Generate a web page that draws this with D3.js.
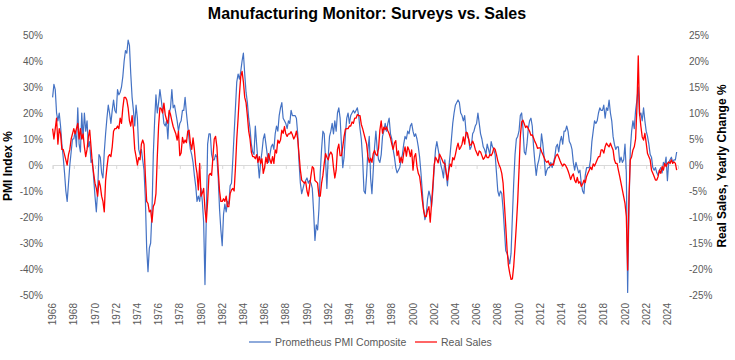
<!DOCTYPE html>
<html><head><meta charset="utf-8">
<script src="https://cdn.jsdelivr.net/npm/d3@7"></script>
<style>body{margin:0;background:#fff}svg{display:block}</style>
</head><body><svg id="c" width="735" height="360"></svg>
<script>
// Data: 8 readings per year (every 1.5 months), starting Jan 1966
const startYear = 1966;
const perYear = 8;
const pmi = [
26,31,29,20,17,20,15,8,
3,-3,-10,-14,-7,0,5,10,
10,13,7,22,8,5,20,10,
20,13,17,7,9,1,2,-5,
-12,-18,-10,4,3,-3,-5,5,
12,18,23,20,16,21,25,21,
20,29,27,28,30,34,40,44,
43,48,46,35,26,21,15,23,
18,6,4,6,2,-2,-13,-32,
-41,-32,-30,-18,4,17,27,20,
24,29,25,21,16,15,17,10,
20,22,29,22,23,20,17,13,
16,17,21,21,26,20,15,10,
6,4,1,-4,-8,-14,-12,-14,
-9,-14,-22,-46,-20,8,12,12,
4,2,2,4,3,-5,-17,-25,
-31,-19,-15,-18,-14,-15,-8,-7,
2,12,22,32,35,33,36,40,
43,35,28,24,18,14,8,5,
4,15,8,1,-5,1,5,10,
12,8,4,1,4,7,8,6,
12,15,13,19,22,24,18,17,
16,14,17,16,21,19,19,19,
18,12,1,-7,-11,-9,-7,-6,
-5,-7,-6,-7,-9,-18,-29,-23,
-25,-17,-3,6,13,12,2,-9,
3,11,13,16,12,17,13,20,
22,18,8,-1,3,12,18,20,
16,19,20,21,20,21,22,19,
14,10,2,-10,-11,-4,6,11,
-5,-11,-2,7,13,6,2,1,
4,11,13,16,13,16,18,12,
10,6,3,-1,-3,-2,-1,2,
4,8,11,10,13,12,15,16,
13,11,12,10,7,3,-3,-10,
-17,-21,-19,-13,-10,-12,-16,-10,
-1,6,9,6,3,0,-2,-5,
2,-3,-8,-1,4,10,16,20,
23,24,25,24,20,19,17,19,
13,11,10,6,7,12,13,15,
16,20,16,12,10,7,6,4,
8,6,4,9,7,6,4,-3,
-10,-12,-10,-11,-17,-25,-33,-34,
-36,-38,-34,-20,-7,4,10,11,
13,19,20,14,5,4,8,14,
17,18,15,7,1,-4,0,2,
5,12,8,3,-4,-2,-1,-1,
1,-1,1,3,7,8,5,9,
11,8,13,13,15,13,9,8,
6,1,-2,1,-1,-3,-2,-7,
-10,-11,-4,-1,-1,-1,2,9,
13,17,16,17,20,22,21,21,
23,18,22,21,25,20,17,11,
8,6,7,7,1,3,1,2,
8,-3,-49,-17,6,13,17,14,
21,25,30,19,20,17,22,17,
13,11,8,4,3,-1,-2,-1,
-3,-4,-2,-1,-3,1,0,3,
-6,1,2,3,1,2,2,5
];
const realSales = [
7,5,7,9,4,7,6,3,
3,2,1,0,2,3,5,6,
7,6,7,8,5,7,5,6,
3.5,1.6,3,5.4,6.7,3.5,0.3,-1.6,
-3.5,-4.5,-6,-3,-4,-6,-7,-9,
-3,-0.5,1.6,2,1.6,3.5,6.5,7,
7,7.5,7,9,8,11,13,13,
12.5,11,8.5,7.5,9.5,7,3,1.6,
0,1.4,1,4,4.8,4,-2,-7,
-7.4,-9,-8.7,-11,-8,-7.4,-5.5,1.5,
7.5,11,10.8,10,11.9,9.7,8.7,8,
10.5,9.7,8.5,7.4,6.7,6,4.8,6.5,
1.8,2.3,5.3,4.2,4.8,4.3,6.5,6.7,
4.2,3,5.2,3,0,-1.6,-4.8,0.3,
-6,-5.4,-4.5,-8.5,-11,-7,-2,-1.6,
-2,1.5,5,5.5,3.5,-1,-5,-7,
-7,-6.5,-7,-6,-8,-8,-5.5,-4.8,
-4.5,-5,-0.5,5,9,13.5,17,18,
16,13,12,9.5,6.5,5,2.5,1.6,
1.6,1.2,2,0.5,1.6,0.3,1.2,-1.6,
-0.5,1.5,0.3,2.2,1,0.3,1.6,0.3,
2.9,2.3,4.8,4.2,4.8,6.7,6.1,7.4,
6,5.5,6,6,6.4,5.8,5,5.5,
6.5,5,2,-1,-2.9,-3.2,-3.5,-3.2,
-5,-6,-4,-2,-0.3,-0.6,-3,-3.2,
-3.5,-6,-6,-3.5,-2,0.3,2.2,1.5,
1,2,2.5,2,-0.5,-2.5,-1,3,
4,1.8,1.8,3.5,5.5,6.9,7,7,
7.5,7.5,8.3,8,9,9,9.7,9.5,
9.5,7.8,7,6,5,4,1.6,0.5,
1.3,0.5,2.2,2.8,2,1.8,3.2,6.7,
8.5,6.1,7.3,6.8,7.3,6.6,6,5.2,
4,3,4.2,4.7,1.8,2.7,0.5,1.5,
0.4,2.3,3.5,1.7,3.5,2.9,1.6,2.9,
-1,1.6,2.2,-0.3,-1.6,-2.2,-4.2,-6.7,
-8.7,-9.9,-9.9,-8.7,-8,-11,-7.4,-3.8,
0,1.5,1,0.4,2.1,1.6,1,0.4,
0.3,-1.4,-2.9,-1.2,0.2,-0.3,1.4,1,
2,3.3,4.2,3,3.4,4,5.4,4,
6.3,6.2,5,3.8,3.9,4.6,4,3,
2.4,1.8,2.7,2.5,1.8,1.1,1.4,2,
1.4,1.4,2,1.8,2.3,3.3,3,2,
0.8,0,-0.6,-1.6,-3.5,-7.6,-11.8,-16.3,
-19.3,-20.8,-22,-21.9,-19.5,-15.7,-11.6,-7,
-1,5.5,8.3,8.6,7.9,7.2,7.5,7,
6.5,5.7,5.8,5.2,4.5,4,3.2,3.3,
3.3,2.6,2,1.4,0.8,0.5,0.8,0.1,
-0.1,0.2,0,1.1,1.8,2.1,1.5,0.8,
0.2,-0.2,0.2,0,-0.5,-1.1,-1.9,-2.8,
-2.1,-1.7,-2.9,-3.4,-2.4,-3.5,-3.2,-4.1,
-3.7,-2.9,-3.4,-2.2,-1.6,-1,-0.4,-0.9,
0.2,-0.2,0.4,1,1.6,1.6,2.9,2.9,
2.3,3.5,4.2,3.8,3.5,4.2,3.5,2.9,
1,0.3,0.3,-1,-2.2,-3.5,-4.8,-6.1,
-7.4,-9.9,-20.2,-6.1,1,1.6,2.9,3.5,
5,11,21,9.9,7.4,5.4,4.8,6.1,
4.2,2.2,1.6,1,-1,-1.6,-2.2,-2.9,
-2.9,-2.2,-1,-1.6,-0.3,-1,0.3,-0.3,
0.3,0.6,0.3,1,0.3,0.6,0.3,-1
];
const yearTicks = d3.range(1966, 2025, 2);
const leftTicks = [-50,-40,-30,-20,-10,0,10,20,30,40,50];
const rightTicks = [-25,-20,-15,-10,-5,0,5,10,15,20,25];
const title = "Manufacturing Monitor: Surveys vs. Sales";
const seriesNames = ["Prometheus PMI Composite", "Real Sales"];
const seriesColors = ["#4472C4", "#FF0000"];

const svg = d3.select("#c");
const x = d3.scaleLinear().domain([1966, 2025]).range([52.6, 678]);
const yL = d3.scaleLinear().domain([-50, 50]).range([295, 35]);
const yR = d3.scaleLinear().domain([-25, 25]).range([295, 35]);
const tOf = i => startYear + i / perYear;
const narrow = "'Liberation Sans Narrow','Liberation Sans',Arial,sans-serif";
const sans = "'Liberation Sans',Arial,sans-serif";

svg.append("text").attr("x", 367).attr("y", 19).attr("text-anchor", "middle")
  .attr("font-family", narrow).attr("font-weight", "bold").attr("font-size", 16)
  .attr("fill", "#000").text(title);

// zero line + ticks (x axis)
const xAxis = d3.axisBottom(x).tickValues(yearTicks).tickSize(4).tickFormat("");
const gx = svg.append("g").attr("transform", `translate(0,${yL(0)})`).call(xAxis);
gx.select(".domain").attr("stroke", "#d9d9d9");
gx.selectAll(".tick line").attr("stroke", "#d9d9d9");

// year labels at bottom
const gy = svg.append("g");
gy.selectAll("text").data(yearTicks).join("text")
  .attr("transform", d => `translate(${x(d) + 3.5},303) rotate(-90)`)
  .attr("text-anchor", "end").attr("font-family", sans).attr("font-size", 10)
  .attr("fill", "#595959").text(d => d);

// left axis
const gl = svg.append("g").attr("transform", "translate(43,0)")
  .call(d3.axisLeft(yL).tickValues(leftTicks).tickSize(0).tickPadding(0).tickFormat(d => d + "%"));
gl.select(".domain").remove();
gl.selectAll("text").attr("font-family", sans).attr("font-size", 10).attr("fill", "#595959");

// right axis
const gr = svg.append("g").attr("transform", "translate(689,0)")
  .call(d3.axisRight(yR).tickValues(rightTicks).tickSize(0).tickPadding(0).tickFormat(d => d + "%"));
gr.select(".domain").remove();
gr.selectAll("text").attr("font-family", sans).attr("font-size", 10).attr("fill", "#595959");

// axis titles
svg.append("text").attr("transform", "translate(12,166) rotate(-90)").attr("text-anchor", "middle")
  .attr("font-family", narrow).attr("font-weight", "bold").attr("font-size", 12).text("PMI Index %");
svg.append("text").attr("transform", "translate(726,166) rotate(-90)").attr("text-anchor", "middle")
  .attr("font-family", narrow).attr("font-weight", "bold").attr("font-size", 12).text("Real Sales, Yearly Change %");

// lines
const lineL = d3.line().x((d, i) => x(tOf(i))).y(d => yL(d));
const lineR = d3.line().x((d, i) => x(tOf(i))).y(d => yR(d));
svg.append("path").datum(pmi).attr("d", lineL).attr("fill", "none")
  .attr("stroke", seriesColors[0]).attr("stroke-width", 1.2).attr("stroke-linejoin", "round");
svg.append("path").datum(realSales).attr("d", lineR).attr("fill", "none")
  .attr("stroke", seriesColors[1]).attr("stroke-width", 1.3).attr("stroke-linejoin", "round");

// legend
const leg = [{x: 249, tx: 275}, {x: 415, tx: 441}];
seriesNames.forEach((n, i) => {
  svg.append("line").attr("x1", leg[i].x).attr("x2", leg[i].x + 22).attr("y1", 342).attr("y2", 342)
    .attr("stroke", seriesColors[i]).attr("stroke-width", 1.2);
  svg.append("text").attr("x", leg[i].tx).attr("y", 346).attr("font-family", sans).attr("font-size", 10.5)
    .attr("fill", "#595959").text(n);
});
</script></body></html>
